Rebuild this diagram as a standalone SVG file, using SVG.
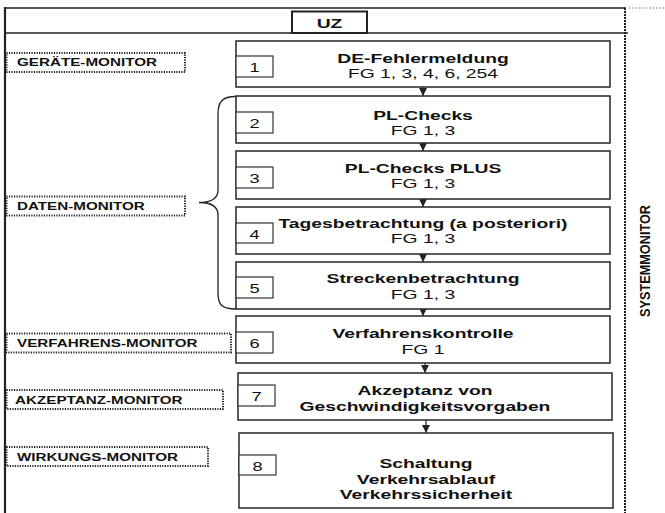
<svg xmlns="http://www.w3.org/2000/svg" width="665" height="513" viewBox="0 0 665 513">
<defs>
<marker id="ah" viewBox="0 0 10 10" refX="10" refY="5" markerWidth="9" markerHeight="8" markerUnits="userSpaceOnUse" orient="auto">
<path d="M0,0 L10,5 L0,10 Z" fill="#222"/>
</marker>
<style>
.frame{fill:none;stroke:#222;stroke-width:1.5}
.box{fill:#fff;stroke:#333;stroke-width:1.6}
.num{fill:#fff;stroke:#333;stroke-width:1.2}
.lbl{fill:none;stroke:#222;stroke-width:2;stroke-dasharray:1.2 1.3}
.t{font-family:"Liberation Sans",Arial,sans-serif;font-size:13.5px;fill:#111;text-anchor:middle}
.b{font-weight:bold}
.n{font-family:"Liberation Sans",Arial,sans-serif;font-size:13.5px;fill:#111;text-anchor:middle}
.m{font-family:"Liberation Sans",Arial,sans-serif;font-size:10.5px;font-weight:bold;fill:#111}
.arr{stroke:#222;stroke-width:1.2;fill:none}
</style>
</defs>
<rect width="665" height="513" fill="#fff"/>

<g id="frame">
<line x1="4" y1="8" x2="626" y2="8" class="frame"/>
<line x1="4" y1="33" x2="628" y2="33" class="frame"/>
<line x1="5" y1="7" x2="5" y2="513" stroke="#222" stroke-width="2.2"/>
<line x1="625" y1="8" x2="625" y2="513" stroke="#222" stroke-width="2" stroke-dasharray="2 1"/>
<line x1="629" y1="8" x2="665" y2="8" stroke="#555" stroke-width="1.2" stroke-dasharray="1.2 2.2"/>
</g>

<g id="uz">
<rect x="292" y="11.5" width="75" height="21.5" fill="#fff" stroke="#222" stroke-width="2"/>
<text class="t b" transform="translate(329.5,28) scale(1.43,1)">UZ</text>
</g>

<g id="systemmonitor">
<text font-weight="bold" font-family="Liberation Sans, Arial, sans-serif" font-size="15" fill="#111" text-anchor="middle" textLength="112" lengthAdjust="spacingAndGlyphs" transform="translate(650,261) rotate(-90)">SYSTEMMONITOR</text>
</g>

<g id="brace">
<path d="M236,96.5 C222,96.5 218,102 218,114 L218,190 C218,198 212,202.5 199,202.5 C212,202.5 218,207 218,215 L218,293 C218,305 222,309 236,309" fill="none" stroke="#222" stroke-width="1.3"/>
</g>

<g id="label-geraete">
<rect x="6.5" y="53" width="178.5" height="19" class="lbl"/>
<text class="m" transform="translate(17,66) scale(1.45,1)">GERÄTE-MONITOR</text>
</g>
<g id="label-daten">
<rect x="6.5" y="196.5" width="178.5" height="19" class="lbl"/>
<text class="m" transform="translate(17,209.5) scale(1.45,1)">DATEN-MONITOR</text>
</g>
<g id="label-verfahrens">
<rect x="6.5" y="333.5" width="224.5" height="19" class="lbl"/>
<text class="m" transform="translate(17,347) scale(1.45,1)">VERFAHRENS-MONITOR</text>
</g>
<g id="label-akzeptanz">
<rect x="6.5" y="390" width="216.5" height="19" class="lbl"/>
<text class="m" transform="translate(15,404) scale(1.45,1)">AKZEPTANZ-MONITOR</text>
</g>
<g id="label-wirkungs">
<rect x="6.5" y="447" width="201.5" height="19" class="lbl"/>
<text class="m" transform="translate(17,461) scale(1.45,1)">WIRKUNGS-MONITOR</text>
</g>

<g id="connectors">
<line x1="423" y1="87" x2="423" y2="96" class="arr" marker-end="url(#ah)"/>
<line x1="423" y1="143" x2="423" y2="151" class="arr" marker-end="url(#ah)"/>
<line x1="423" y1="199" x2="423" y2="207" class="arr" marker-end="url(#ah)"/>
<line x1="423" y1="254" x2="423" y2="262" class="arr" marker-end="url(#ah)"/>
<line x1="423" y1="309" x2="423" y2="316" class="arr" marker-end="url(#ah)"/>
<line x1="425" y1="363" x2="425" y2="373" class="arr" marker-end="url(#ah)"/>
<line x1="426" y1="420" x2="426" y2="433" class="arr" marker-end="url(#ah)"/>
</g>

<g id="node1">
<rect x="236" y="41" width="374" height="46" class="box"/>
<rect x="236" y="56" width="37" height="21" class="num"/>
<text class="n" transform="translate(254.5,72) scale(1.35,1)">1</text>
<text class="t b" transform="translate(423,63) scale(1.43,1)">DE-Fehlermeldung</text>
<text class="t" transform="translate(423,78) scale(1.43,1)">FG 1, 3, 4, 6, 254</text>
</g>

<g id="node2">
<rect x="236" y="96" width="374" height="47" class="box"/>
<rect x="236" y="112" width="37" height="21" class="num"/>
<text class="n" transform="translate(254.5,128) scale(1.35,1)">2</text>
<text class="t b" transform="translate(423,119.5) scale(1.43,1)">PL-Checks</text>
<text class="t" transform="translate(423,134.5) scale(1.43,1)">FG 1, 3</text>
</g>

<g id="node3">
<rect x="236" y="151" width="374" height="48" class="box"/>
<rect x="236" y="167" width="37" height="21" class="num"/>
<text class="n" transform="translate(254.5,183) scale(1.35,1)">3</text>
<text class="t b" transform="translate(423,173) scale(1.43,1)">PL-Checks PLUS</text>
<text class="t" transform="translate(423,188) scale(1.43,1)">FG 1, 3</text>
</g>

<g id="node4">
<rect x="236" y="207" width="374" height="47" class="box"/>
<rect x="236" y="223" width="37" height="20" class="num"/>
<text class="n" transform="translate(254.5,238.5) scale(1.35,1)">4</text>
<text class="t b" transform="translate(423,228) scale(1.43,1)">Tagesbetrachtung (a posteriori)</text>
<text class="t" transform="translate(423,243) scale(1.43,1)">FG 1, 3</text>
</g>

<g id="node5">
<rect x="236" y="262" width="374" height="47" class="box"/>
<rect x="236" y="277" width="37" height="21" class="num"/>
<text class="n" transform="translate(254.5,293) scale(1.35,1)">5</text>
<text class="t b" transform="translate(423,283) scale(1.43,1)">Streckenbetrachtung</text>
<text class="t" transform="translate(423,298.5) scale(1.43,1)">FG 1, 3</text>
</g>

<g id="node6">
<rect x="236" y="316" width="374" height="47" class="box"/>
<rect x="236" y="332" width="37" height="21" class="num"/>
<text class="n" transform="translate(254.5,348) scale(1.35,1)">6</text>
<text class="t b" transform="translate(423,338) scale(1.43,1)">Verfahrenskontrolle</text>
<text class="t" transform="translate(423,354) scale(1.43,1)">FG 1</text>
</g>

<g id="node7">
<rect x="238" y="373" width="374" height="47" class="box"/>
<rect x="238" y="385" width="37" height="21" class="num"/>
<text class="n" transform="translate(256.5,401) scale(1.35,1)">7</text>
<text class="t b" transform="translate(425,395) scale(1.43,1)">Akzeptanz von</text>
<text class="t b" transform="translate(425,410.5) scale(1.43,1)">Geschwindigkeitsvorgaben</text>
</g>

<g id="node8">
<rect x="239" y="433" width="374" height="75" class="box"/>
<rect x="239" y="455" width="37" height="20" class="num"/>
<text class="n" transform="translate(257.5,470.5) scale(1.35,1)">8</text>
<text class="t b" transform="translate(426,468) scale(1.43,1)">Schaltung</text>
<text class="t b" transform="translate(426,483.5) scale(1.43,1)">Verkehrsablauf</text>
<text class="t b" transform="translate(426,499) scale(1.43,1)">Verkehrssicherheit</text>
</g>
</svg>
